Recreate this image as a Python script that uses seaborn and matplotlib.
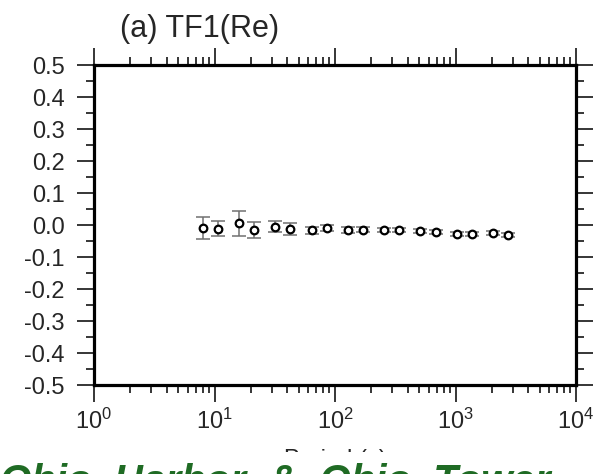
import matplotlib
matplotlib.use("Agg")
import matplotlib.pyplot as plt
import seaborn as sns
import pandas as pd
from matplotlib.patches import Rectangle
from matplotlib.ticker import FixedLocator, LogLocator, NullFormatter, MultipleLocator

# ---- data ----
periods = [8, 10.67, 16, 21.33, 32, 42.67, 64, 85.33, 128, 170.67,
           256, 341.33, 512, 682.67, 1024, 1365.33, 2048, 2730.67]
tf1_re = [-0.009, -0.011, 0.005, -0.016, -0.005, -0.012, -0.017, -0.010, -0.015, -0.015,
          -0.016, -0.015, -0.018, -0.022, -0.027, -0.027, -0.024, -0.030]
tf1_err = [0.034, 0.023, 0.038, 0.024, 0.018, 0.018, 0.010, 0.010, 0.009, 0.008,
           0.007, 0.006, 0.006, 0.006, 0.006, 0.006, 0.006, 0.006]

y_tick_values = [-0.5, -0.4, -0.3, -0.2, -0.1, 0.0, 0.1, 0.2, 0.3, 0.4, 0.5]
y_tick_labels = ["-0.5", "-0.4", "-0.3", "-0.2", "-0.1", "0.0", "0.1", "0.2", "0.3", "0.4", "0.5"]
x_tick_values = [1, 10, 100, 1000, 10000]
x_tick_labels = ["$10^{0}$", "$10^{1}$", "$10^{2}$", "$10^{3}$", "$10^{4}$"]

title_text = "(a) TF1(Re)"
x_label = "Period (s)"
banner_text = "Ohio  Harbor  &  Ohio  Tower"

df = pd.DataFrame({"period": periods, "value": tf1_re, "err": tf1_err})

sns.set_theme(style="ticks")
plt.rcParams["font.family"] = ["Liberation Sans", "DejaVu Sans"]
plt.rcParams["mathtext.fontset"] = "custom"
plt.rcParams["mathtext.rm"] = "Liberation Sans"
plt.rcParams["mathtext.it"] = "Liberation Sans:italic"
plt.rcParams["axes.unicode_minus"] = False

W, H = 596, 474
fig = plt.figure(figsize=(W / 100, H / 100), dpi=100)
fig.patch.set_facecolor("white")
ax = fig.add_axes([94 / W, 1 - 385 / H, (576 - 94) / W, (385 - 65) / H])
ax.set_facecolor("white")

ax.errorbar(df["period"], df["value"], yerr=df["err"], fmt="none",
            ecolor="#707070", elinewidth=1.1, capsize=4.8, capthick=1.1, zorder=2)
sns.scatterplot(data=df, x="period", y="value", ax=ax, marker="o", s=30,
                facecolor="white", edgecolor="black", linewidth=1.6, zorder=3, legend=False)

ax.set_xscale("log")
ax.set_xlim(1, 10000)
ax.set_ylim(-0.5, 0.5)
ax.xaxis.set_major_locator(FixedLocator(x_tick_values))
ax.set_xticklabels(x_tick_labels)
ax.xaxis.set_minor_locator(LogLocator(base=10, subs=range(2, 10), numticks=20))
ax.xaxis.set_minor_formatter(NullFormatter())
ax.yaxis.set_major_locator(FixedLocator(y_tick_values))
ax.set_yticklabels(y_tick_labels)
ax.yaxis.set_minor_locator(MultipleLocator(0.05))

for sp in ax.spines.values():
    sp.set_visible(True)
    sp.set_linewidth(2.3)
    sp.set_color("black")

ax.tick_params(which="both", direction="out", top=True, right=True,
               labeltop=False, labelright=False, color="black", width=1.1)
ax.tick_params(which="major", length=12, labelsize=17)
ax.tick_params(axis="y", which="major", pad=9)
ax.tick_params(axis="x", which="major", pad=5)
ax.tick_params(which="minor", length=6)

ax.set_xlabel(x_label, fontsize=17, labelpad=11)
ax.set_ylabel("")

fig.text(120 / W, 1 - 37 / H, title_text, fontsize=22, va="baseline", ha="left")

# cropped slide banner below the chart
fig.patches.append(Rectangle((0, 0), 1, (H - 452) / H, transform=fig.transFigure,
                             facecolor="white", edgecolor="none", zorder=10))
fig.text(0, 1 - 493 / H, banner_text, fontsize=29, fontweight="bold", style="italic",
         color="#1f6b24", va="baseline", ha="left", zorder=11)

fig.savefig("out.png", dpi=100)
